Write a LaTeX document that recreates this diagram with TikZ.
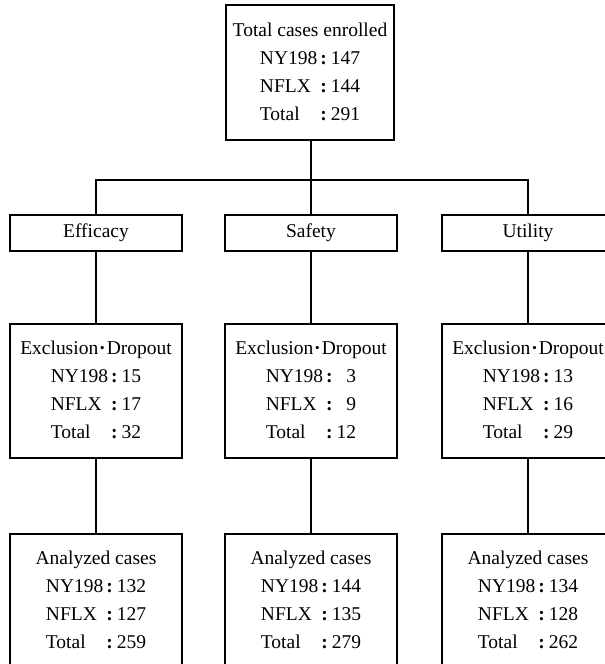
\documentclass[tikz,border=0pt]{standalone}
\usepackage{fontspec}
\setmainfont{Liberation Serif}
\usetikzlibrary{calc}

% width of the widest row label, used to line up the colons
\newlength{\tallylab}
\settowidth{\tallylab}{\fontsize{19.5}{28}\selectfont NY198}
% widths of three-digit and two-digit counts
\newlength{\numthree}
\settowidth{\numthree}{\fontsize{19.5}{28}\selectfont 000}
\newlength{\numtwo}
\settowidth{\numtwo}{\fontsize{19.5}{28}\selectfont 00}

% a heading followed by three "label : count" rows
\newcommand{\tallyrow}[2]{\makebox[\tallylab][l]{#1}\kern3pt\textbf{:}\kern4pt\makebox[#2][r]}
\newcommand{\tally}[5]{%
  \begin{tabular}{@{}c@{}}
    #1\\
    \tallyrow{NY198}{#5}{#2}\\
    \tallyrow{NFLX}{#5}{#3}\\
    \tallyrow{Total}{#5}{#4}
  \end{tabular}}
\newcommand{\exdrop}{Exclusion\kern1pt\textbf{·}\kern1pt Dropout}

\begin{document}
\begin{tikzpicture}[x=1pt,y=-1pt, line width=1.4pt,
  tallybox/.style={draw, minimum width=172pt, minimum height=134pt,
    inner sep=0pt, align=center, font=\fontsize{19.5}{28}\selectfont},
  armbox/.style={draw, minimum width=172pt, minimum height=36pt,
    inner sep=0pt, font=\fontsize{19.5}{24}\selectfont}]
\useasboundingbox (0,0) rectangle (605,664);
\clip (0,0) rectangle (605,664);

% enrolment
\node[tallybox, minimum width=168pt, minimum height=135pt] (enrol) at (310,72.5)
  {\tally{Total cases enrolled}{147}{144}{291}{\numthree}};

% the three evaluation arms
\node[armbox] (eff) at (96,233)  {Efficacy};
\node[armbox] (saf) at (311,233) {Safety};
\node[armbox] (utl) at (528,233) {Utility};

% exclusions and dropouts
\node[tallybox] (exeff) at (96,391)  {\tally{\exdrop}{15}{17}{32}{\numtwo}};
\node[tallybox] (exsaf) at (311,391) {\tally{\exdrop}{3}{9}{12}{\numtwo}};
\node[tallybox] (exutl) at (528,391) {\tally{\exdrop}{13}{16}{29}{\numtwo}};

% analysed cases
\node[tallybox] (aneff) at (96,601)  {\tally{Analyzed cases}{132}{127}{259}{\numthree}};
\node[tallybox] (ansaf) at (311,601) {\tally{Analyzed cases}{144}{135}{279}{\numthree}};
\node[tallybox] (anutl) at (528,601) {\tally{Analyzed cases}{134}{128}{262}{\numthree}};

% connectors
\coordinate (hub) at (311,180);
\draw (enrol.south -| hub) -- (hub);
\draw (eff.north) |- (hub);
\draw (utl.north) |- (hub);
\draw (saf.north) -- (hub);
\foreach \a/\b/\c in {eff/exeff/aneff, saf/exsaf/ansaf, utl/exutl/anutl}{
  \draw (\a.south) -- (\b.north);
  \draw (\b.south) -- (\c.north);
}
\end{tikzpicture}
\end{document}
